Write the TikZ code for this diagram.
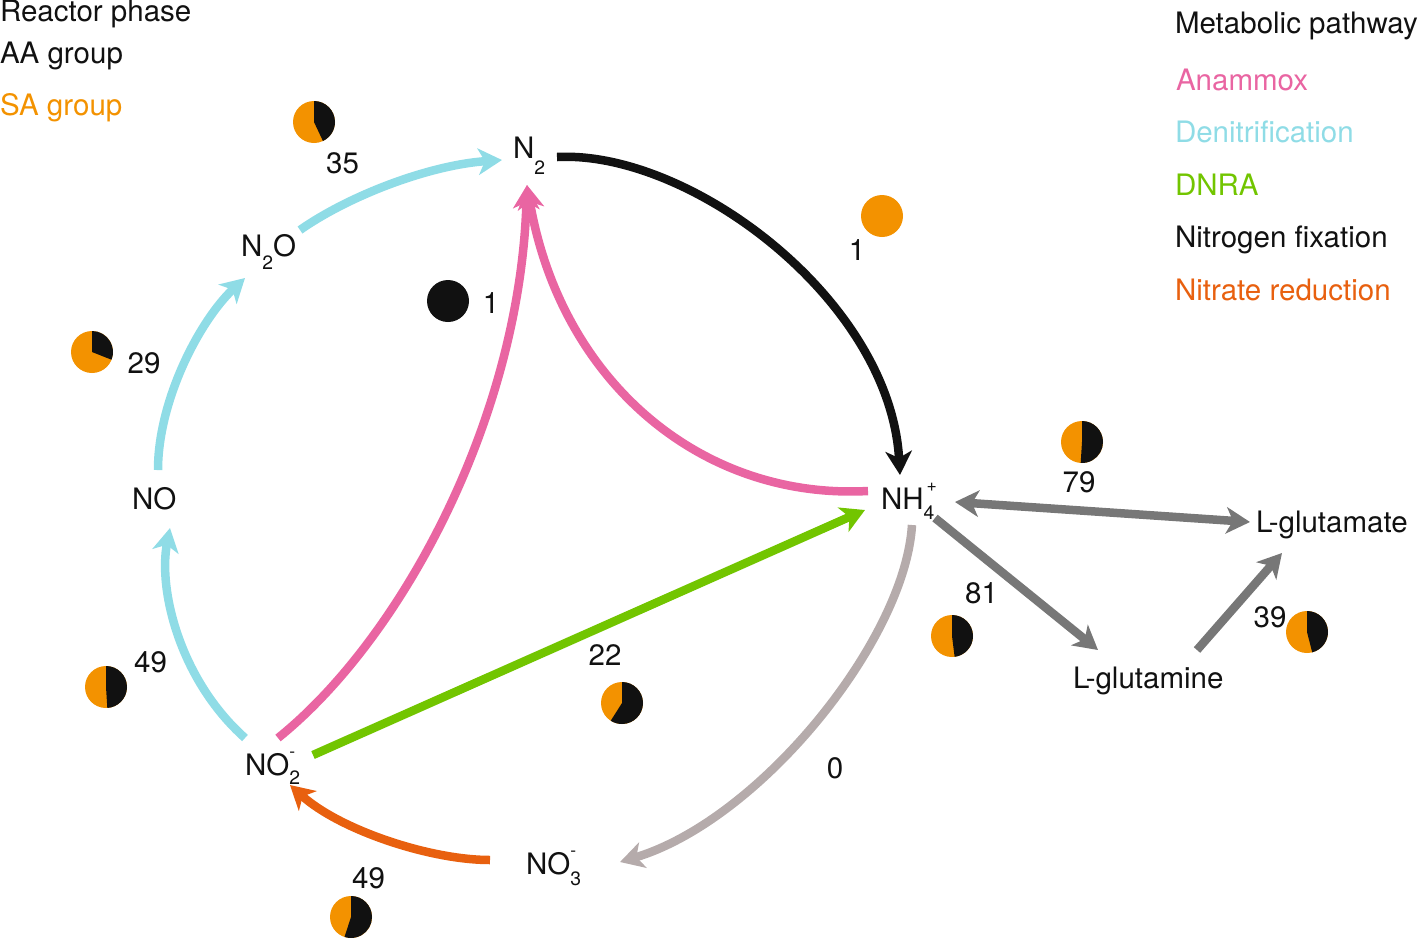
\documentclass[tikz,border=0pt]{standalone}
\usepackage{fontspec}
\setmainfont{TeX Gyre Heros}
\usetikzlibrary{arrows.meta}
\definecolor{cOr}{HTML}{F39200}
\definecolor{cPink}{HTML}{E965A2}
\definecolor{cCyan}{HTML}{8FDCE6}
\definecolor{cGreen}{HTML}{72C500}
\definecolor{cRed}{HTML}{E8600F}
\definecolor{cGray}{HTML}{777777}
\definecolor{cTaupe}{HTML}{B5ABAB}
\definecolor{cBlk}{HTML}{111111}
\newcommand{\lsub}[2]{\raisebox{-#1em}{\fontsize{11}{11}\selectfont #2}}
\newcommand{\hsup}[2]{\raisebox{#1em}{\fontsize{10}{10}\selectfont #2}}
\newcommand{\pie}[3]{%
  \fill[cOr] (#1,#2) circle[radius=21];
  \fill[cBlk] (#1,#2) -- ++(-90:21) arc[start angle=-90, delta angle={#3*360}, radius=21] -- cycle;}
\tikzset{
  txt/.style={inner sep=0pt, outer sep=0pt, font=\fontsize{16.8}{19}\selectfont, text=cBlk},
  chem/.style={txt, anchor=base west},
  num/.style={txt, anchor=base},
  leg/.style={txt, anchor=base west},
  conn/.style={line width=0.17cm, -{Stealth[length=13.5pt,width=15pt,inset=3.8pt]}},
  dconn/.style={line width=0.17cm, {Stealth[length=13.5pt,width=15pt,inset=3.8pt]}-{Stealth[length=13.5pt,width=15pt,inset=3.8pt]}},
}
\begin{document}
\begin{tikzpicture}[x=0.02cm, y=-0.02cm]
\useasboundingbox (0,0) rectangle (1418,938);

% legend
\node[leg] (lrp) at (0,21) {Reactor phase};
\node[leg] (laa) at (0,63) {AA group};
\node[leg, text=cOr] (lsa) at (0,115) {SA group};
\node[leg] (lmp) at (1175,33) {Metabolic pathway};
\node[leg, text=cPink] (lan) at (1176,90) {Anammox};
\node[leg, text=cCyan] (lde) at (1175,142) {Denitrification};
\node[leg, text=cGreen] (ldn) at (1175,195) {DNRA};
\node[leg] (lnf) at (1175,247) {Nitrogen fixation};
\node[leg, text=cRed] (lnr) at (1175,300) {Nitrate reduction};

% compounds
\node[chem] (N2) at (513,158) {N\lsub{0.55}{2}};
\node[chem] (N2O) at (241,256) {N\lsub{0.45}{2}O};
\node[chem] (NO) at (132,509) {NO};
\node[chem] (NO2) at (245,775) {NO\rlap{\hsup{0.6}{-}}\lsub{0.32}{2}};
\node[chem] (NO3) at (526,874) {NO\rlap{\hsup{0.6}{-}}\lsub{0.38}{3}};
\node[chem] (NH4) at (881,509) {NH\rlap{\hsup{0.6}{\,+}}\lsub{0.34}{4}};
\node[chem] (Lglu) at (1256,532) {L-glutamate};
\node[chem] (Lgln) at (1073,688) {L-glutamine};

% anammox
\draw[conn, cPink] ([shift={(33,-37)}]NO2.base west) .. controls +(122,-98) and +(-7,235) .. ([shift={(14,27)}]N2.base west);
\draw[conn, cPink] ([shift={(-13,-18)}]NH4.base west) .. controls +(-168,9) and +(33,195) .. ([shift={(14,27)}]N2.base west);
% denitrification
\draw[conn, cCyan] ([shift={(0,-37)}]NO2.base west) .. controls +(-65,-58) and +(-12,62) .. ([shift={(38,19)}]NO.base west);
\draw[conn, cCyan] ([shift={(26,-39)}]NO.base west) .. controls +(0,-70) and +(-45,42) .. ([shift={(4,22)}]N2O.base west);
\draw[conn, cCyan] ([shift={(59,-26)}]N2O.base west) .. controls +(50,-35) and +(-72,5) .. ([shift={(-11,2)}]N2.base west);
% nitrogen fixation
\draw[conn, cBlk] ([shift={(44,-1)}]N2.base west) .. controls +(133,-7) and +(-10,-175) .. ([shift={(19,-34)}]NH4.base west);
% DNRA
\draw[conn, cGreen] ([shift={(68,-20)}]NO2.base west) -- ([shift={(-16,1)}]NH4.base west);
% NH4 -> NO3
\draw[conn, cTaupe] ([shift={(31,16)}]NH4.base west) .. controls +(-7,115) and +(140,-42) .. ([shift={(94,-12)}]NO3.base west);
% nitrate reduction
\draw[conn, cRed] ([shift={(-36,-14)}]NO3.base west) .. controls +(-60,0) and +(50,45) .. ([shift={(45,10)}]NO2.base west);
% glutamate / glutamine
\draw[dconn, cGray] ([shift={(74,-7)}]NH4.base west) -- ([shift={(-6,-10)}]Lglu.base west);
\draw[conn, cGray] ([shift={(54,9)}]NH4.base west) -- ([shift={(25,-38)}]Lgln.base west);
\draw[conn, cGray] ([shift={(124,-38)}]Lgln.base west) -- ([shift={(26,21)}]Lglu.base west);

% numbers
\node[num] (n35) at (342.5,173) {35};
\node[num] (n29) at (144,373) {29};
\node[num] (n49a) at (150.5,672) {49};
\node[num] (n1a) at (491,313) {1};
\node[num] (n1b) at (857,260) {1};
\node[num] (n79) at (1079,492) {79};
\node[num] (n81) at (981.5,603) {81};
\node[num] (n39) at (1270,627) {39};
\node[num] (n22) at (605,665) {22};
\node[num] (n0) at (835,778) {0};
\node[num] (n49b) at (368.5,888) {49};

% pies
\pie{314}{122}{0.43}
\pie{92}{352}{0.31}
\pie{106}{687}{0.49}
\pie{1082}{442}{0.51}
\pie{952}{636}{0.48}
\pie{1307}{632}{0.46}
\pie{622}{703}{0.59}
\pie{351}{917}{0.55}
\fill[cBlk] (448,301) circle[radius=21];
\fill[cOr] (882,216) circle[radius=21];
\end{tikzpicture}
\end{document}
